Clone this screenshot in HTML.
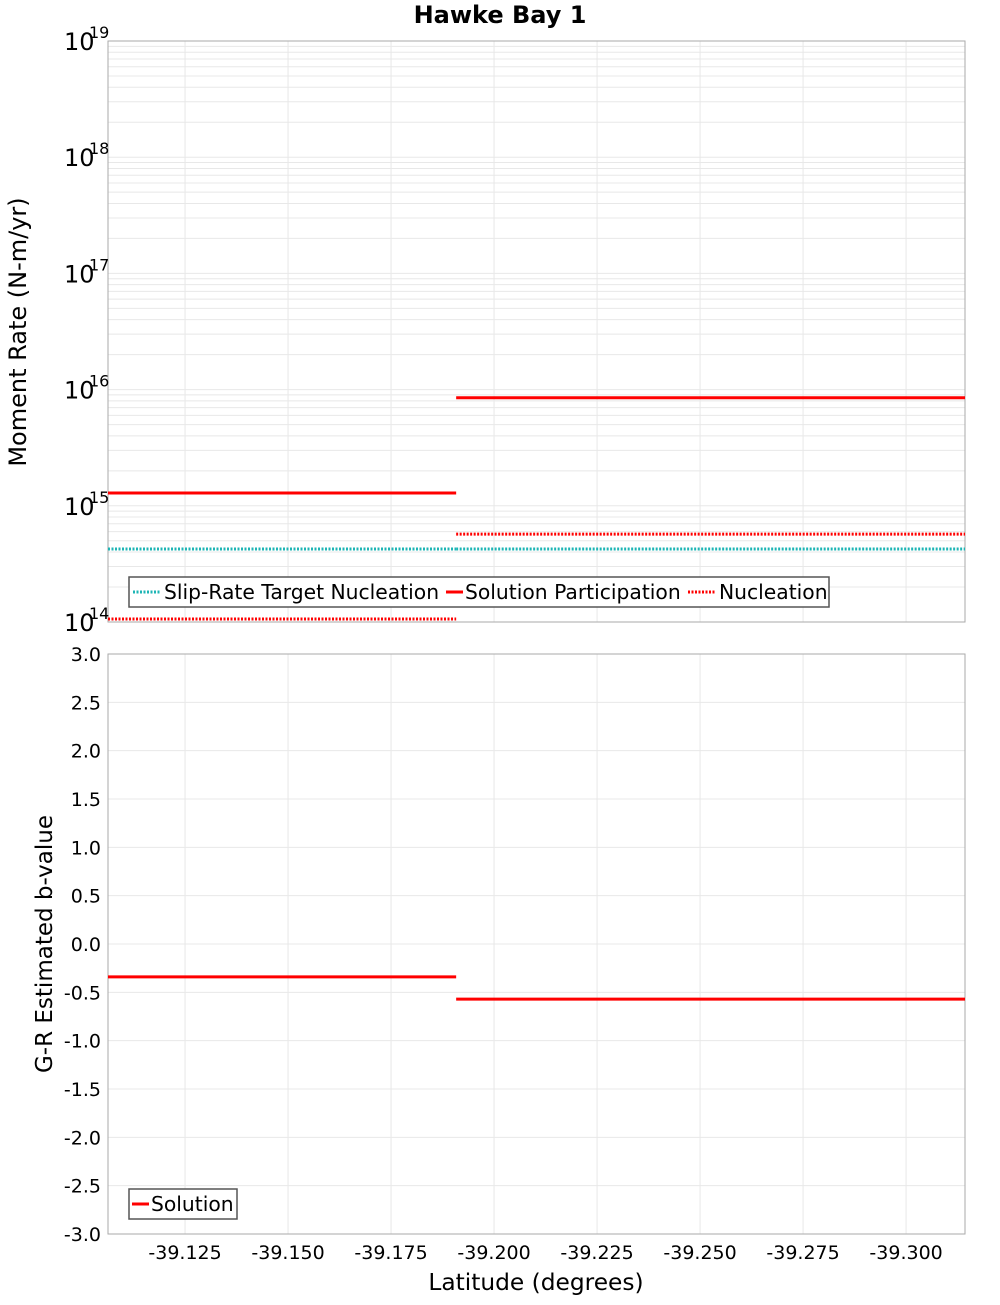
<!DOCTYPE html>
<html><head><meta charset="utf-8"><style>
body{margin:0;background:#fff;font-family:"Liberation Sans","DejaVu Sans",sans-serif}
svg text{font-family:"DejaVu Sans","Liberation Sans",sans-serif}
</style></head><body>
<svg id="c" width="1000" height="1300" xmlns="http://www.w3.org/2000/svg"></svg>
<script>
const xTicks=[-39.125,-39.150,-39.175,-39.200,-39.225,-39.250,-39.275,-39.300];
const segStarts=[-39.1063,-39.1908];
const segEnds=[-39.1908,-39.3143];
const targetNuc=[4.25e14,4.25e14];
const solPart=[1.29e15,8.5e15];
const nucleation=[1.06e14,5.7e14];
const bValues=[-0.34,-0.57];
const bTicks=[3.0,2.5,2.0,1.5,1.0,0.5,0.0,-0.5,-1.0,-1.5,-2.0,-2.5,-3.0];
const decades=[14,15,16,17,18,19];

const L=108,R=965,T1=41,B1=622,T2=654,B2=1234;
const X=v=>L+(v-(-39.1063))/(-39.3143-(-39.1063))*(R-L);
const Y1=v=>B1-(Math.log10(v)-14)/5*(B1-T1);
const Y2=v=>B2-(v+3)/6*(B2-T2);
const svg=document.getElementById('c');
function el(t,a,txt){const e=document.createElementNS('http://www.w3.org/2000/svg',t);for(const k in a)e.setAttribute(k,a[k]);if(txt!==undefined)e.textContent=txt;svg.appendChild(e);return e;}

let t=el('text',{x:500,y:23,'text-anchor':'middle','font-size':24,'font-weight':'bold'},'Hawke Bay 1');



decades.forEach(d=>{for(let m=1;m<10;m++){if(d===19&&m>1)break;const v=m*Math.pow(10,d);const y=Y1(v);
 let g=el('line',{x1:L,x2:R,y1:y,y2:y,stroke:'#e8e8e8','stroke-width':1});
 
 }});
xTicks.forEach(v=>{const x=X(v);
 let g=el('line',{x1:x,x2:x,y1:T1,y2:B1,stroke:'#e8e8e8'});
 
 
 let g2=el('line',{x1:x,x2:x,y1:T2,y2:B2,stroke:'#e8e8e8'});
 
 });
bTicks.forEach(v=>{const y=Y2(v);
 let g=el('line',{x1:L,x2:R,y1:y,y2:y,stroke:'#e8e8e8'});
 
 
 let lb=el('text',{x:101,y:y+7,'text-anchor':'end','font-size':19},v.toFixed(1));
 
 });

let f1=el('rect',{x:L,y:T1,width:R-L,height:B1-T1,fill:'none',stroke:'#aaa'});


let f2=el('rect',{x:L,y:T2,width:R-L,height:B2-T2,fill:'none',stroke:'#aaa'});



decades.forEach(d=>{const y=Y1(Math.pow(10,d));
 let lb=el('text',{x:64,y:y+9,'font-size':24},'10');
 
 
 let s=el('text',{x:89,y:y-3,'font-size':16},String(d));
 
 });

function seg(arr,yf,color,dash,name){for(let i=0;i<arr.length;i++){
 let l=el('line',{x1:X(segStarts[i]),x2:X(segEnds[i]),y1:yf(arr[i]),y2:yf(arr[i]),stroke:color,'stroke-width':3});
 if(dash)l.setAttribute('stroke-dasharray','2,1.5');
 
 }}
seg(targetNuc,Y1,'#1db5b5',true,'slip-rate-target-nucleation-line');
seg(nucleation,Y1,'#ff0000',true,'nucleation-line');
seg(solPart,Y1,'#ff0000',false,'solution-participation-line');
seg(bValues,Y2,'#ff0000',false,'solution-b-value-line');

xTicks.forEach(v=>{let lb=el('text',{x:X(v),y:1259,'text-anchor':'middle','font-size':19},v.toFixed(3));
 
 });

let a1=el('text',{x:26,y:332,'text-anchor':'middle','font-size':24,transform:'rotate(-90 26 332)'},'Moment Rate (N-m/yr)');


let a2=el('text',{x:52,y:944,'text-anchor':'middle','font-size':23,transform:'rotate(-90 52 944)'},'G-R Estimated b-value');


let a3=el('text',{x:536,y:1290,'text-anchor':'middle','font-size':23.3},'Latitude (degrees)');



let lg=el('rect',{x:129,y:577,width:700,height:30,fill:'#fff',stroke:'#555','stroke-width':1.5});


const items=[['Slip-Rate Target Nucleation','#1db5b5',true,133],['Solution Participation','#ff0000',false,446],['Nucleation','#ff0000',true,688]];
items.forEach(([n,c,d,x])=>{let l=el('line',{x1:x,x2:x+(d?28:17),y1:592,y2:592,stroke:c,'stroke-width':3});
 if(d)l.setAttribute('stroke-dasharray','2,1.5');
 
 
 let tx=el('text',{x:x+(d?31:19),y:599,'font-size':20.3},n);
 
 });
let lg2=el('rect',{x:129,y:1189,width:108,height:30,fill:'#fff',stroke:'#555','stroke-width':1.5});


let ls=el('line',{x1:132,x2:149,y1:1204,y2:1204,stroke:'#ff0000','stroke-width':3});


let lt=el('text',{x:151,y:1211,'font-size':20.3},'Solution');


</script>
</body></html>
